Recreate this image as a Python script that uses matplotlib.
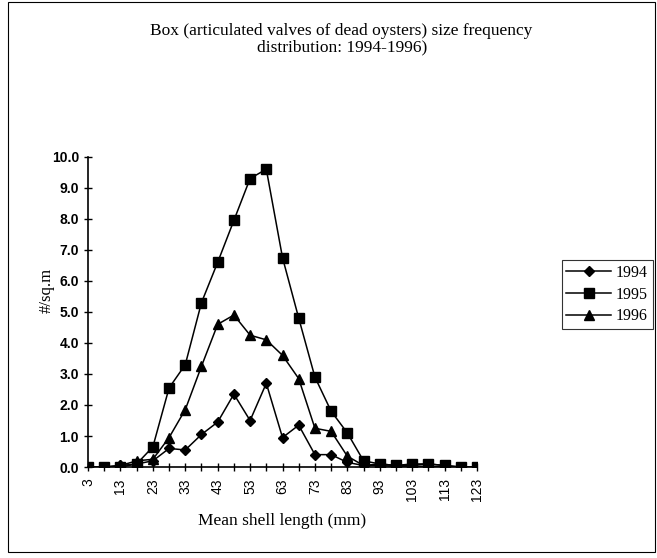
import numpy as np
import matplotlib.pyplot as plt

# size classes (mm), every 5 mm
lengths = [3, 8, 13, 18, 23, 28, 33, 38, 43, 48, 53, 58, 63, 68, 73, 78,
           83, 88, 93, 98, 103, 108, 113, 118, 123]

y1994 = [0.0, 0.0, 0.05, 0.1, 0.2, 0.6, 0.55, 1.05, 1.45, 2.35, 1.5, 2.7, 0.95,
         1.35, 0.4, 0.4, 0.15, 0.05, 0.05, 0.02, 0.02, 0.02, 0.0, 0.0, 0.0]
y1995 = [0.0, 0.0, 0.0, 0.1, 0.65, 2.55, 3.3, 5.3, 6.6, 7.95, 9.3, 9.6, 6.75,
         4.8, 2.9, 1.8, 1.1, 0.2, 0.1, 0.05, 0.1, 0.1, 0.05, 0.0, 0.0]
y1996 = [0.0, 0.0, 0.05, 0.2, 0.25, 0.95, 1.85, 3.25, 4.6, 4.9, 4.25, 4.1, 3.6,
         2.85, 1.25, 1.15, 0.35, 0.05, 0.1, 0.05, 0.05, 0.1, 0.05, 0.0, 0.0]

yticks = np.arange(0, 10.5, 1.0)

fig = plt.figure(figsize=(6.57, 5.58), dpi=100)
ax = fig.add_axes([0.134, 0.163, 0.592, 0.556])

x = np.arange(len(lengths))
ax.plot(x, y1994, color='black', lw=1.1, marker='D', ms=5, label='1994')
ax.plot(x, y1995, color='black', lw=1.1, marker='s', ms=7, label='1995')
ax.plot(x, y1996, color='black', lw=1.1, marker='^', ms=7, label='1996')

ax.set_xlim(0, len(lengths) - 1)
ax.set_ylim(0, 10)
ax.set_xticks(x)
ax.set_xticklabels([str(v) if i % 2 == 0 else '' for i, v in enumerate(lengths)],
                   rotation=90, family='Liberation Sans', fontsize=10)
ax.set_yticks(yticks)
ax.set_yticklabels(['%.1f' % v for v in yticks], family='Liberation Sans',
                   fontsize=10, fontweight='bold')
ax.tick_params(axis='both', direction='inout', length=6, width=1, colors='black')
ax.tick_params(axis='x', pad=5)
for s in ['top', 'right']:
    ax.spines[s].set_visible(False)
for s in ['left', 'bottom']:
    ax.spines[s].set_linewidth(1.2)
    ax.spines[s].set_zorder(0)

ax.set_xlabel('Mean shell length (mm)', family='Liberation Serif', fontsize=12.5,
              labelpad=8)
ax.set_ylabel('#/sq.m', family='Liberation Serif', fontsize=12)
ax.yaxis.set_label_coords(-0.085, 0.57)

fig.text(0.52, 0.93, 'Box (articulated valves of dead oysters) size frequency\ndistribution: 1994-1996)',
         ha='center', va='center', family='Liberation Serif', fontsize=12.5,
         linespacing=1.0)

leg = fig.legend(loc='center', bbox_to_anchor=(0.924, 0.472), frameon=True,
                 prop={'family': 'Liberation Serif', 'size': 11.5},
                 handlelength=2.8, handletextpad=0.3, borderpad=0.3,
                 labelspacing=0.35, fancybox=False, edgecolor='black')
leg.get_frame().set_linewidth(0.8)

# outer chart frame
fig.add_artist(plt.Rectangle((0.012, 0.011), 0.985, 0.985, fill=False,
                             transform=fig.transFigure, lw=0.8, color='black'))

fig.savefig('out.png', dpi=100)
